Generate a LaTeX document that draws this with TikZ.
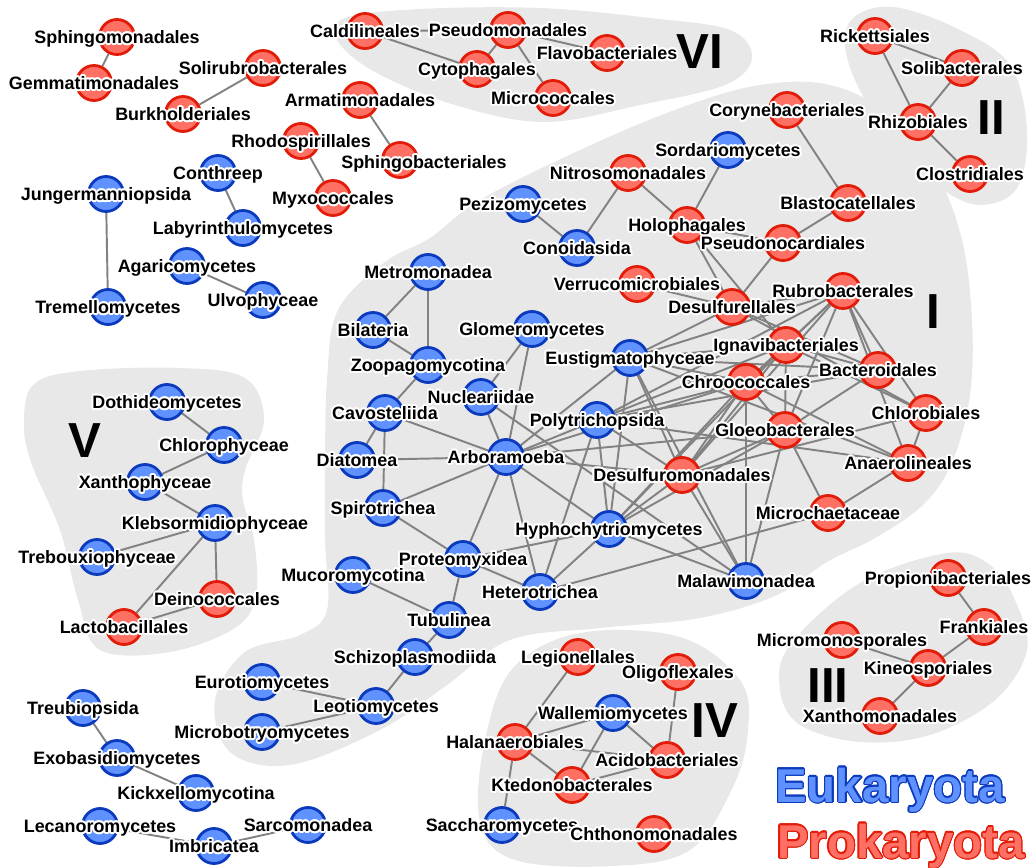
\documentclass[tikz,border=0pt]{standalone}
\usepackage{fontspec}
\setmainfont{Liberation Sans}
\usepackage{contour}
\contourlength{1.1pt}
\definecolor{eukfill}{RGB}{96,146,255}
\definecolor{eukline}{RGB}{12,58,188}
\definecolor{profill}{RGB}{255,112,100}
\definecolor{proline}{RGB}{226,28,8}
\definecolor{blobgray}{RGB}{232,232,232}
\definecolor{linkgray}{RGB}{130,130,130}
\pgfdeclarelayer{back}
\pgfdeclarelayer{links}
\pgfdeclarelayer{front}
\pgfsetlayers{back,links,main,front}
\tikzset{
  euk/.style={circle, draw=eukline, fill=eukfill, line width=1.6pt, minimum size=0.7cm, inner sep=0pt},
  pro/.style={circle, draw=proline, fill=profill, line width=1.6pt, minimum size=0.7cm, inner sep=0pt},
  lbl/.style={font=\bfseries\fontsize{10.2}{12}\selectfont, inner sep=0pt, text height=7.3pt, text depth=0pt},
  link/.style={draw=linkgray, line width=1.1pt},
  blob/.style={fill=blobgray},
  roman/.style={font=\bfseries\fontsize{28}{30}\selectfont, inner sep=0pt, text height=20pt, text depth=0pt},
  key/.style={font=\bfseries\fontsize{27}{30}\selectfont, inner sep=0pt, text height=19.4pt, text depth=0pt}
}
% one taxon: style, name, x, y, text
\newcommand{\taxon}[5]{%
  \node[#1] (#2) at (#3,#4) {};
  \begin{pgfonlayer}{front}\node[lbl] (#2-t) at (#2) {\contour{white}{#5}};\end{pgfonlayer}}

\begin{document}
\begin{tikzpicture}[x=0.02cm, y=-0.02cm]
  \useasboundingbox (0,0) rectangle (1032,868);

  %%%%% CLUSTERS %%%%%
  \begin{pgfonlayer}{back}
    \fill[blob] plot[smooth cycle, tension=0.6] coordinates {(430,238) (480,200) (580,150) (680,108) (760,85) (830,85) (890,115) (935,170) (962,240) (972,320) (970,395) (953,460) (925,503) (877,537) (827,562) (777,595) (700,618) (600,628) (510,640) (447,685) (380,730) (290,765) (230,752) (215,700) (245,652) (300,635) (327,610) (325,540) (325,470) (327,380) (338,310) (385,262)};
    \fill[blob] plot[smooth cycle, tension=0.6] coordinates {(33,385) (80,371) (180,368) (245,378) (264,420) (245,470) (243,500) (254,540) (256,595) (235,628) (170,652) (100,650) (78,600) (60,530) (32,465) (24,425)};
    \fill[blob] plot[smooth cycle, tension=0.6] coordinates {(345,18) (420,9) (540,8) (650,18) (730,30) (752,58) (725,85) (640,105) (545,122) (455,105) (375,72) (337,40)};
    \fill[blob] plot[smooth cycle, tension=0.6] coordinates {(845,35) (862,12) (900,8) (960,30) (1010,65) (1027,130) (1017,188) (980,205) (940,188) (897,150) (855,80)};
    \fill[blob] plot[smooth cycle, tension=0.6] coordinates {(790,645) (860,583) (947,553) (990,565) (1015,600) (1027,650) (995,700) (930,735) (860,742) (800,725) (780,690)};
    \fill[blob] plot[smooth cycle, tension=0.6] coordinates {(513,668) (580,633) (680,637) (740,680) (748,730) (733,787) (690,850) (613,866) (515,860) (480,822) (485,740)};
  \end{pgfonlayer}

  %%%%% TAXA %%%%%
  \taxon{pro}{sphingomo}{117}{37}{Sphingomonadales}
  \taxon{pro}{gemmati}{94}{83}{Gemmatimonadales}
  \taxon{pro}{solirubro}{263}{68}{Solirubrobacterales}
  \taxon{pro}{burkhold}{183}{114}{Burkholderiales}
  \taxon{pro}{armatimo}{360}{100}{Armatimonadales}
  \taxon{pro}{rhodospir}{301}{141}{Rhodospirillales}
  \node[pro] (sphingobac) at (400,160) {};
  \begin{pgfonlayer}{front}\node[lbl] (sphingobac-t) at (424,162) {\contour{white}{Sphingobacteriales}};\end{pgfonlayer}
  \taxon{pro}{myxococ}{333}{198}{Myxococcales}
  \taxon{euk}{conthreep}{218}{173}{Conthreep}
  \taxon{euk}{labyrinth}{243}{228}{Labyrinthulomycetes}
  \taxon{euk}{jungerman}{106}{194}{Jungermanniopsida}
  \taxon{euk}{tremello}{108}{307}{Tremellomycetes}
  \taxon{euk}{agarico}{187}{266}{Agaricomycetes}
  \taxon{euk}{ulvophy}{263}{300}{Ulvophyceae}

  \taxon{pro}{caldiline}{365}{31}{Caldilineales}
  \taxon{pro}{pseudomon}{508}{30}{Pseudomonadales}
  \taxon{pro}{cytophag}{477}{69}{Cytophagales}
  \taxon{pro}{flavobac}{607}{53}{Flavobacteriales}
  \taxon{pro}{micrococ}{553}{98}{Micrococcales}

  \taxon{pro}{rickett}{875}{36}{Rickettsiales}
  \taxon{pro}{solibac}{962}{68}{Solibacterales}
  \taxon{pro}{rhizob}{918}{122}{Rhizobiales}
  \taxon{pro}{clostrid}{970}{174}{Clostridiales}

  \taxon{pro}{coryneb}{787}{110}{Corynebacteriales}
  \taxon{euk}{sordario}{728}{150}{Sordariomycetes}
  \taxon{pro}{nitrosom}{628}{173}{Nitrosomonadales}
  \taxon{euk}{pezizo}{523}{204}{Pezizomycetes}
  \taxon{euk}{conoida}{577}{248}{Conoidasida}
  \taxon{pro}{holophag}{687}{225}{Holophagales}
  \taxon{pro}{blastocat}{848}{203}{Blastocatellales}
  \taxon{pro}{pseudonoc}{783}{243}{Pseudonocardiales}
  \taxon{pro}{verrucom}{637}{284}{Verrucomicrobiales}
  \taxon{pro}{desulfurel}{732}{307}{Desulfurellales}
  \taxon{pro}{rubrobac}{843}{291}{Rubrobacterales}
  \taxon{pro}{ignavib}{786}{345}{Ignavibacteriales}
  \taxon{pro}{chrooc}{746}{382}{Chroococcales}
  \taxon{pro}{bacteroid}{878}{370}{Bacteroidales}
  \taxon{pro}{chlorobi}{926}{413}{Chlorobiales}
  \taxon{pro}{gloeobac}{785}{430}{Gloeobacterales}
  \taxon{pro}{anaeroli}{908}{463}{Anaerolineales}
  \taxon{pro}{desulfuro}{682}{475}{Desulfuromonadales}
  \taxon{pro}{microchae}{828}{513}{Microchaetaceae}
  \taxon{euk}{malawimo}{746}{581}{Malawimonadea}
  \taxon{euk}{eustigma}{630}{358}{Eustigmatophyceae}
  \taxon{euk}{polytrich}{597}{420}{Polytrichopsida}
  \taxon{euk}{hyphochy}{609}{529}{Hyphochytriomycetes}
  \taxon{euk}{metromon}{428}{272}{Metromonadea}
  \taxon{euk}{bilater}{373}{330}{Bilateria}
  \taxon{euk}{zoopago}{428}{365}{Zoopagomycotina}
  \taxon{euk}{glomero}{532}{329}{Glomeromycetes}
  \taxon{euk}{nuclear}{481}{397}{Nucleariidae}
  \taxon{euk}{cavostel}{385}{413}{Cavosteliida}
  \taxon{euk}{diatom}{357}{460}{Diatomea}
  \taxon{euk}{arboram}{506}{457}{Arboramoeba}
  \taxon{euk}{spirotri}{383}{508}{Spirotrichea}
  \taxon{euk}{proteomyx}{463}{559}{Proteomyxidea}
  \taxon{euk}{heterotri}{540}{592}{Heterotrichea}
  \taxon{euk}{mucoromy}{353}{575}{Mucoromycotina}
  \taxon{euk}{tubuline}{449}{620}{Tubulinea}
  \taxon{euk}{schizopla}{415}{657}{Schizoplasmodiida}
  \taxon{euk}{eurotio}{262}{682}{Eurotiomycetes}
  \taxon{euk}{leotio}{376}{706}{Leotiomycetes}
  \taxon{euk}{microbot}{262}{732}{Microbotryomycetes}

  \taxon{euk}{dothideo}{167}{402}{Dothideomycetes}
  \taxon{euk}{chloroph}{224}{445}{Chlorophyceae}
  \taxon{euk}{xanthoph}{145}{482}{Xanthophyceae}
  \taxon{euk}{klebsorm}{215}{523}{Klebsormidiophyceae}
  \taxon{euk}{trebouxi}{97}{557}{Trebouxiophyceae}
  \taxon{pro}{deinococ}{217}{599}{Deinococcales}
  \taxon{pro}{lactobac}{124}{627}{Lactobacillales}

  \taxon{pro}{legionel}{578}{657}{Legionellales}
  \taxon{pro}{oligofle}{678}{672}{Oligoflexales}
  \taxon{euk}{wallemio}{613}{713}{Wallemiomycetes}
  \taxon{pro}{halanaer}{515}{742}{Halanaerobiales}
  \taxon{pro}{acidobac}{667}{760}{Acidobacteriales}
  \taxon{pro}{ktedonob}{572}{785}{Ktedonobacterales}
  \taxon{euk}{saccharo}{502}{825}{Saccharomycetes}
  \taxon{pro}{chthonom}{654}{834}{Chthonomonadales}

  \taxon{pro}{propioni}{948}{578}{Propionibacteriales}
  \taxon{pro}{frankial}{984}{627}{Frankiales}
  \taxon{pro}{micromon}{842}{640}{Micromonosporales}
  \taxon{pro}{kineospo}{928}{668}{Kineosporiales}
  \taxon{pro}{xanthomo}{880}{716}{Xanthomonadales}

  \taxon{euk}{treubio}{83}{708}{Treubiopsida}
  \taxon{euk}{exobasid}{117}{758}{Exobasidiomycetes}
  \taxon{euk}{kickxell}{196}{793}{Kickxellomycotina}
  \taxon{euk}{lecanoro}{100}{826}{Lecanoromycetes}
  \taxon{euk}{imbricat}{214}{846}{Imbricatea}
  \taxon{euk}{sarcomon}{308}{825}{Sarcomonadea}

  %%%%% LINKS %%%%%
  \begin{pgfonlayer}{links}
    \foreach \a/\b in {sphingomo/gemmati, solirubro/burkhold, armatimo/sphingobac, rhodospir/myxococ,
        conthreep/labyrinth, jungerman/tremello, agarico/ulvophy,
        caldiline/pseudomon, caldiline/cytophag, pseudomon/cytophag, pseudomon/flavobac, pseudomon/micrococ,
        rickett/solibac, rickett/rhizob, solibac/rhizob, rhizob/clostrid,
        dothideo/chloroph, chloroph/xanthoph, xanthoph/klebsorm, klebsorm/trebouxi, klebsorm/lactobac, klebsorm/deinococ, deinococ/lactobac,
        legionel/halanaer, halanaer/wallemio, halanaer/acidobac, halanaer/ktedonob, halanaer/saccharo, wallemio/ktedonob, wallemio/acidobac, oligofle/acidobac, ktedonob/acidobac, saccharo/chthonom,
        propioni/frankial, frankial/kineospo, micromon/kineospo, kineospo/xanthomo,
        treubio/exobasid, exobasid/kickxell, lecanoro/imbricat, imbricat/sarcomon}
      \draw[link] (\a) -- (\b);
    % cluster I
    \foreach \a/\b in {metromon/bilater, metromon/zoopago, bilater/zoopago, zoopago/cavostel,
        glomero/nuclear, glomero/arboram, nuclear/arboram, cavostel/diatom, cavostel/spirotri, cavostel/arboram,
        diatom/arboram, arboram/spirotri, spirotri/proteomyx, proteomyx/tubuline, proteomyx/heterotri,
        mucoromy/tubuline, tubuline/schizopla, schizopla/leotio, eurotio/leotio, microbot/leotio,
        pezizo/conoida, conoida/nitrosom, nitrosom/holophag, sordario/holophag, holophag/pseudonoc,
        holophag/desulfurel, holophag/ignavib, pseudonoc/blastocat, blastocat/coryneb, pseudonoc/desulfurel,
        verrucom/desulfurel, desulfurel/rubrobac, desulfurel/bacteroid, desulfurel/eustigma, desulfurel/chlorobi,
        rubrobac/ignavib, rubrobac/chrooc, rubrobac/bacteroid, rubrobac/chlorobi, rubrobac/gloeobac,
        rubrobac/eustigma, rubrobac/polytrich, rubrobac/desulfuro, rubrobac/anaeroli,
        ignavib/bacteroid, ignavib/chrooc, ignavib/gloeobac, ignavib/chlorobi, ignavib/eustigma,
        ignavib/polytrich, ignavib/desulfuro, ignavib/hyphochy,
        chrooc/bacteroid, chrooc/gloeobac, chrooc/eustigma, chrooc/polytrich, chrooc/desulfuro,
        chrooc/hyphochy, chrooc/malawimo, chrooc/anaeroli, chrooc/arboram,
        bacteroid/gloeobac, bacteroid/polytrich, bacteroid/eustigma, chlorobi/anaeroli, chlorobi/desulfuro,
        gloeobac/desulfuro, gloeobac/microchae, gloeobac/malawimo, gloeobac/hyphochy, gloeobac/arboram,
        anaeroli/microchae, anaeroli/eustigma, anaeroli/polytrich, desulfuro/malawimo, desulfuro/hyphochy,
        desulfuro/eustigma, desulfuro/polytrich, desulfuro/arboram, microchae/heterotri,
        hyphochy/malawimo, hyphochy/polytrich, hyphochy/eustigma, hyphochy/proteomyx, hyphochy/arboram,
        hyphochy/heterotri, arboram/polytrich, arboram/eustigma, arboram/proteomyx, arboram/heterotri,
        nuclear/malawimo, polytrich/heterotri, eustigma/malawimo}
      \draw[link] (\a) -- (\b);
  \end{pgfonlayer}

  %%%%% CLUSTER NUMBERS AND KEY %%%%%
  \node[roman] (num-i) at (933,311) {I};
  \node[roman] (num-ii) at (991,117) {II};
  \node[roman] (num-iii) at (828,685) {III};
  \node[roman] (num-iv) at (715,720) {IV};
  \node[roman] (num-v) at (85,440) {V};
  \node[roman] (num-vi) at (700,51) {VI};

  \contourlength{0.7pt}
  \node[key, text=eukfill] (key-euk) at (890,785) {\contour{eukline}{Eukaryota}};
  \node[key, text=profill] (key-pro) at (901,841) {\contour{proline}{Prokaryota}};
\end{tikzpicture}
\end{document}
